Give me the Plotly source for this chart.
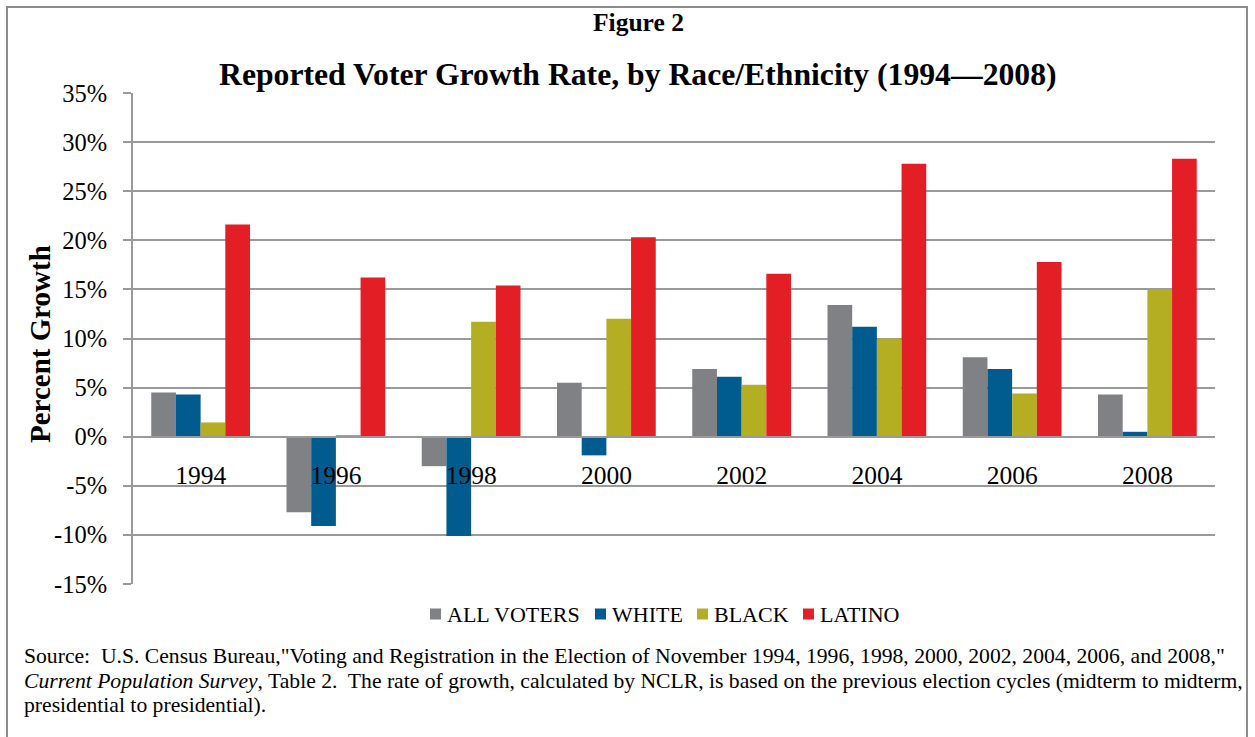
import plotly.graph_objects as go

years = ["1994", "1996", "1998", "2000", "2002", "2004", "2006", "2008"]
all_voters = [4.5, -7.7, -3.0, 5.5, 6.9, 13.4, 8.1, 4.3]
white = [4.3, -9.1, -10.1, -1.9, 6.1, 11.2, 6.9, 0.5]
black = [1.45, 0.15, 11.7, 12.0, 5.3, 10.0, 4.4, 15.0]
latino = [21.6, 16.2, 15.4, 20.3, 16.6, 27.8, 17.8, 28.3]

series_names = ["ALL VOTERS", "WHITE", "BLACK", "LATINO"]
series_colors = ["#808184", "#005B8F", "#B4AE23", "#E31E24"]

y_ticks = [-15, -10, -5, 0, 5, 10, 15, 20, 25, 30, 35]
y_ticktext = [f"{v}%" for v in y_ticks]

W, H = 1255, 737
L, R, T, B = 133, 1215, 93, 584
FONT = "Liberation Serif"
GRID = "#9A9A9A"


def px_x(x):
    return (x - L) / (R - L)


def px_y(y):
    return (B - y) / (B - T)


fig = go.Figure()
for name, vals, col in zip(series_names, [all_voters, white, black, latino], series_colors):
    fig.add_trace(go.Bar(x=years, y=vals, name=name, showlegend=False,
                         marker=dict(color=col, line=dict(width=0))))

fig.update_layout(
    width=W, height=H,
    margin=dict(l=L, r=W - R, t=T, b=H - B, autoexpand=False),
    paper_bgcolor="white", plot_bgcolor="white",
    barmode="group", bargap=0.27, bargroupgap=0,
    font=dict(family=FONT, color="black"),
    showlegend=False,
    xaxis=dict(type="category", anchor="free", position=0.3, showline=True, linecolor=GRID,
               linewidth=2, ticks="", showgrid=False, tickfont=dict(size=25.5, family=FONT),
               ticklabelstandoff=16, layer="above traces"),
    yaxis=dict(range=[-15, 35], tickvals=y_ticks, ticktext=y_ticktext, showgrid=True,
               gridcolor=GRID, gridwidth=2, zeroline=False, showline=True, linecolor=GRID,
               linewidth=2, ticks="outside", ticklen=8, tickcolor=GRID, tickwidth=2,
               tickfont=dict(size=24.5, family=FONT), ticklabelstandoff=11),
)

annotations = [
    dict(text="<b>Figure 2</b>", x=px_x(638), y=px_y(23), font=dict(size=25.5)),
    dict(text="<b>Reported Voter Growth Rate, by Race/Ethnicity (1994\u20142008)</b>",
         x=px_x(638), y=px_y(74.5), font=dict(size=31.7)),
    dict(text="<b>Percent Growth</b>", x=px_x(40), y=px_y(344), textangle=-90, font=dict(size=29)),
]
src_lines = [
    "Source:  U.S. Census Bureau,\"Voting and Registration in the Election of November 1994, 1996, 1998, 2000, 2002, 2004, 2006, and 2008,\"",
    "<i>Current Population Survey</i>, Table 2.  The rate of growth, calculated by NCLR, is based on the previous election cycles (midterm to midterm,",
    "presidential to presidential).",
]
src_y = [656, 681, 705]
for line, yy in zip(src_lines, src_y):
    annotations.append(dict(text=line, x=px_x(22), xanchor="left", y=px_y(yy), font=dict(size=21.65)))

# legend (custom, tight like the original)
legend_sq_x = [430, 595, 697, 803]
legend_sq = 11
legend_y = 614
shapes = []
for name, col, sx in zip(series_names, series_colors, legend_sq_x):
    shapes.append(dict(type="rect", xref="paper", yref="paper",
                       x0=px_x(sx), x1=px_x(sx + legend_sq),
                       y0=px_y(legend_y + legend_sq / 2), y1=px_y(legend_y - legend_sq / 2),
                       fillcolor=col, line=dict(width=0)))
    annotations.append(dict(text=name, x=px_x(sx + legend_sq + 4), xanchor="left",
                            y=px_y(legend_y + 0.5), font=dict(size=22)))

for a in annotations:
    a.setdefault("xanchor", "center")
    a.update(xref="paper", yref="paper", yanchor="middle", showarrow=False)
    a["font"].setdefault("family", FONT)
    a["font"].setdefault("color", "black")

shapes.append(dict(type="rect", xref="paper", yref="paper", x0=px_x(7), x1=px_x(1247),
                   y0=px_y(7), y1=px_y(760), line=dict(color="#8C8C8C", width=2),
                   fillcolor="rgba(0,0,0,0)", layer="below"))
fig.update_layout(annotations=annotations, shapes=shapes)

fig.write_html("out.html")
